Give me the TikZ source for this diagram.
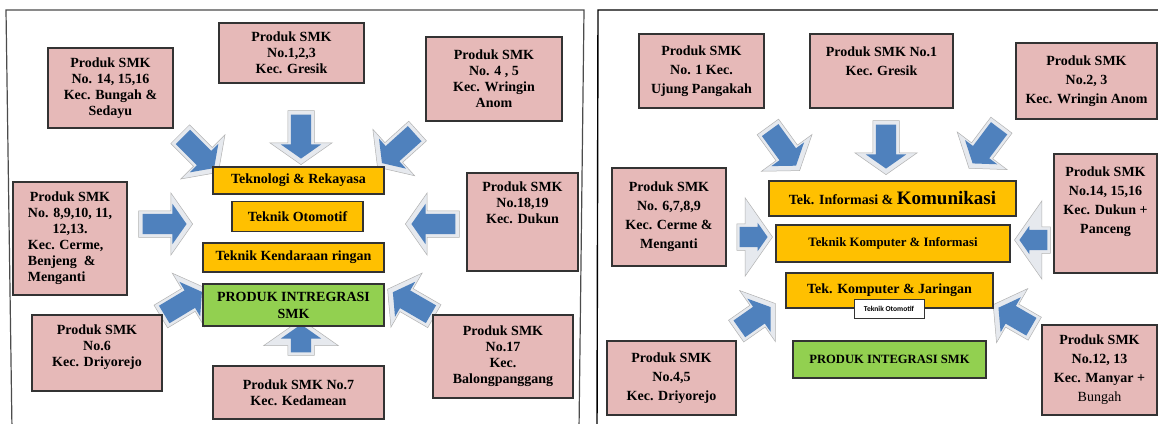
\documentclass[tikz,border=0pt]{standalone}
\usepackage{fontspec}
\setmainfont{Liberation Serif}
\newfontfamily\labelsans{Carlito}
\usetikzlibrary{shapes.arrows}

\definecolor{smkpink}{HTML}{E6B9B8}
\definecolor{smkorange}{HTML}{FFC000}
\definecolor{smkgreen}{HTML}{92D050}
\definecolor{smkblue}{HTML}{4F81BD}
\definecolor{bevel}{HTML}{E6E9EE}

\tikzset{
  produk/.style={draw=black!80, line width=1.1pt, fill=smkpink, align=center, inner sep=2pt, font=\fontsize{14}{16}\selectfont\bfseries},
  produk wide/.style={produk, font=\fontsize{14}{19}\selectfont\bfseries},
  boxtext/.style={align=center, inner sep=0pt, font=\fontsize{14}{16}\selectfont\bfseries},
  boxtext wide/.style={boxtext, font=\fontsize{14}{19}\selectfont\bfseries},
  jurusan/.style={draw=black!80, line width=1.1pt, fill=smkorange, align=center, inner sep=1pt, font=\fontsize{14}{17}\selectfont\bfseries},
  integrasi/.style={jurusan, fill=smkgreen},
  kecil/.style={draw=black!80, line width=0.6pt, fill=white, inner sep=1pt, font=\labelsans\bfseries\fontsize{7.5}{8}\selectfont},
  flow/.style={single arrow, single arrow tip angle=110, single arrow head extend=10pt, inner sep=10pt, minimum height=44pt, fill=smkblue, draw=none},
  flow back/.style={single arrow, single arrow tip angle=110, single arrow head extend=18pt, inner sep=13pt, minimum height=54pt, fill=bevel, draw=black!30, line width=0.5pt},
  panel/.style={draw=black!70, line width=1.2pt}
}

\begin{document}
\begin{tikzpicture}[x=1pt, y=-1pt]

\fill[white] (0, 0) rectangle (1158, 423);
\useasboundingbox (0, 0) rectangle (1158, 423);

\draw[panel] (12, 430) -- (6, 10) -- (584, 10) -- (579, 430);
\draw[panel, draw=black, line width=1.4pt] (597, 430) -- (598, 10) -- (1170, 10);

% arrows, left half
\node[flow back, rotate=-45] (arrow bungah back) at (196, 150) {};
\node[flow, rotate=-45] (arrow bungah) at (196, 150) {};
\node[flow back, rotate=-90] (arrow gresik back) at (301, 133) {};
\node[flow, rotate=-90] (arrow gresik) at (301, 133) {};
\node[flow back, rotate=-138] (arrow wringin back) at (401, 146) {};
\node[flow, rotate=-138] (arrow wringin) at (401, 146) {};
\node[flow back, rotate=0] (arrow cerme back) at (161, 224) {};
\node[flow, rotate=0] (arrow cerme) at (161, 224) {};
\node[flow back, rotate=180] (arrow dukun back) at (437, 224) {};
\node[flow, rotate=180] (arrow dukun) at (437, 224) {};
\node[flow back, rotate=31] (arrow driyorejo back) at (180, 305) {};
\node[flow, rotate=31] (arrow driyorejo) at (180, 305) {};
\node[flow back, rotate=90, minimum height=34pt, single arrow head extend=24pt] (arrow kedamean back) at (301, 342) {};
\node[flow, rotate=90, minimum height=28pt] (arrow kedamean) at (301, 342) {};
\node[flow back, rotate=150] (arrow balong back) at (415, 305) {};
\node[flow, rotate=150] (arrow balong) at (415, 305) {};

% arrows, right half
\node[flow back, rotate=-54] (arrow ujung back) at (781, 145) {};
\node[flow, rotate=-54] (arrow ujung) at (781, 145) {};
\node[flow back, rotate=-90] (arrow gresik2 back) at (886, 143) {};
\node[flow, rotate=-90] (arrow gresik2) at (886, 143) {};
\node[flow back, rotate=-127] (arrow wringin2 back) at (988, 143) {};
\node[flow, rotate=-127] (arrow wringin2) at (988, 143) {};
\node[flow back, rotate=0, minimum height=34pt, single arrow head extend=26pt] (arrow cerme2 back) at (750, 237) {};
\node[flow, rotate=0, minimum height=28pt, single arrow head extend=4pt] (arrow cerme2) at (750, 237) {};
\node[flow back, rotate=180, minimum height=34pt, single arrow head extend=26pt] (arrow dukun2 back) at (1037, 240) {};
\node[flow, rotate=180, minimum height=28pt, single arrow head extend=4pt] (arrow dukun2) at (1037, 240) {};
\node[flow back, rotate=35, minimum height=48pt] (arrow driyorejo2 back) at (752, 320) {};
\node[flow, rotate=35, minimum height=38pt] (arrow driyorejo2) at (752, 320) {};
\node[flow back, rotate=150, minimum height=48pt] (arrow manyar back) at (1018, 319) {};
\node[flow, rotate=150, minimum height=38pt] (arrow manyar) at (1018, 319) {};

% left half
\node[produk, minimum width=125, minimum height=80] (bungah) at (110.5, 88) {Produk SMK\\No. 14, 15,16\\Kec. Bungah \&\\Sedayu};
\node[produk, minimum width=145, minimum height=60] (gresik) at (291.5, 53) {Produk SMK\\No.1,2,3\\Kec. Gresik};
\node[produk, minimum width=136, minimum height=84] (wringin) at (494, 79) {Produk SMK\\No. 4 , 5\\Kec. Wringin\\Anom};
\node[produk, minimum width=114, minimum height=113] (cerme) at (70, 238.5) {\begin{tabular}{@{}c@{}}Produk SMK\\No. 8,9,10, 11,\\12,13.\\\multicolumn{1}{@{}l@{}}{Kec. Cerme,}\\\multicolumn{1}{@{}l@{}}{Benjeng \ \&}\\\multicolumn{1}{@{}l@{}}{Menganti}\end{tabular}};
\node[produk, minimum width=111, minimum height=98] (dukun) at (522.5, 222) {};
\node[boxtext, anchor=north] (dukun text) at ([yshift=-9pt]dukun.north) {Produk SMK\\No.18,19\\Kec. Dukun};
\node[produk, minimum width=130, minimum height=76] (driyorejo) at (97, 353) {};
\node[boxtext, anchor=north] (driyorejo text) at ([yshift=-10pt]driyorejo.north) {Produk SMK\\No.6\\Kec. Driyorejo};
\node[produk, minimum width=171, minimum height=53] (kedamean) at (298.5, 392.5) {Produk SMK No.7\\Kec. Kedamean};
\node[produk, minimum width=140, minimum height=83] (balong) at (503, 356.5) {Produk SMK\\No.17\\Kec.\\Balongpanggang};

\node[jurusan, minimum width=171, minimum height=27] (teknologi) at (298.5, 180.5) {Teknologi \& Rekayasa};
\node[jurusan, minimum width=131, minimum height=30] (otomotif) at (297.5, 216.5) {Teknik Otomotif};
\node[jurusan, minimum width=181, minimum height=29] (kendaraan) at (293.5, 257.5) {Teknik Kendaraan ringan};
\node[integrasi, minimum width=181, minimum height=42] (integrasi) at (293.5, 305) {PRODUK INTREGRASI\\SMK};

% right half
\node[produk wide, minimum width=125, minimum height=74] (ujung) at (701.5, 71) {Produk SMK\\No. 1 Kec.\\Ujung Pangakah};
\node[produk wide, minimum width=143, minimum height=74] (gresik2) at (881.5, 71) {};
\node[boxtext wide, anchor=north] (gresik2 text) at ([yshift=-13pt]gresik2.north) {Produk SMK No.1\\Kec. Gresik};
\node[produk wide, minimum width=141, minimum height=76] (wringin2) at (1086.5, 81) {Produk SMK\\No.2, 3\\Kec. Wringin Anom};
\node[produk wide, minimum width=114, minimum height=98] (cerme2) at (669, 217) {Produk SMK\\No. 6,7,8,9\\Kec. Cerme \&\\Menganti};
\node[produk wide, minimum width=103, minimum height=119] (dukun2) at (1105.5, 213.5) {};
\node[boxtext wide, anchor=north] (dukun2 text) at ([yshift=-13pt]dukun2.north) {Produk SMK\\No.14, 15,16\\Kec. Dukun +\\Panceng};
\node[produk wide, minimum width=129, minimum height=74] (driyorejo2) at (671.5, 378) {Produk SMK\\No.4,5\\Kec. Driyorejo};
\node[produk wide, minimum width=115, minimum height=90] (manyar) at (1099.5, 370) {Produk SMK\\No.12, 13\\Kec. Manyar +\\{\mdseries Bungah}};

\node[jurusan, minimum width=247, minimum height=35] (informasi) at (892.5, 198.5) {Tek. Informasi \& {\fontsize{19}{19}\selectfont Komunikasi}};
\node[jurusan, minimum width=234, minimum height=37, font=\fontsize{12.8}{15}\selectfont\bfseries] (kompinfo) at (893, 243.5) {Teknik Komputer \& Informasi};
\node[jurusan, minimum width=207, minimum height=35] (jaringan) at (889.5, 290.5) {Tek. Komputer \& Jaringan};
\node[kecil, minimum width=70, minimum height=19] (otomotif2) at (889, 308.5) {Teknik Otomotif};
\node[integrasi, minimum width=193, minimum height=37, font=\fontsize{12.6}{15}\selectfont\bfseries] (integrasi2) at (889.5, 359.5) {PRODUK INTEGRASI SMK};

\end{tikzpicture}
\end{document}
